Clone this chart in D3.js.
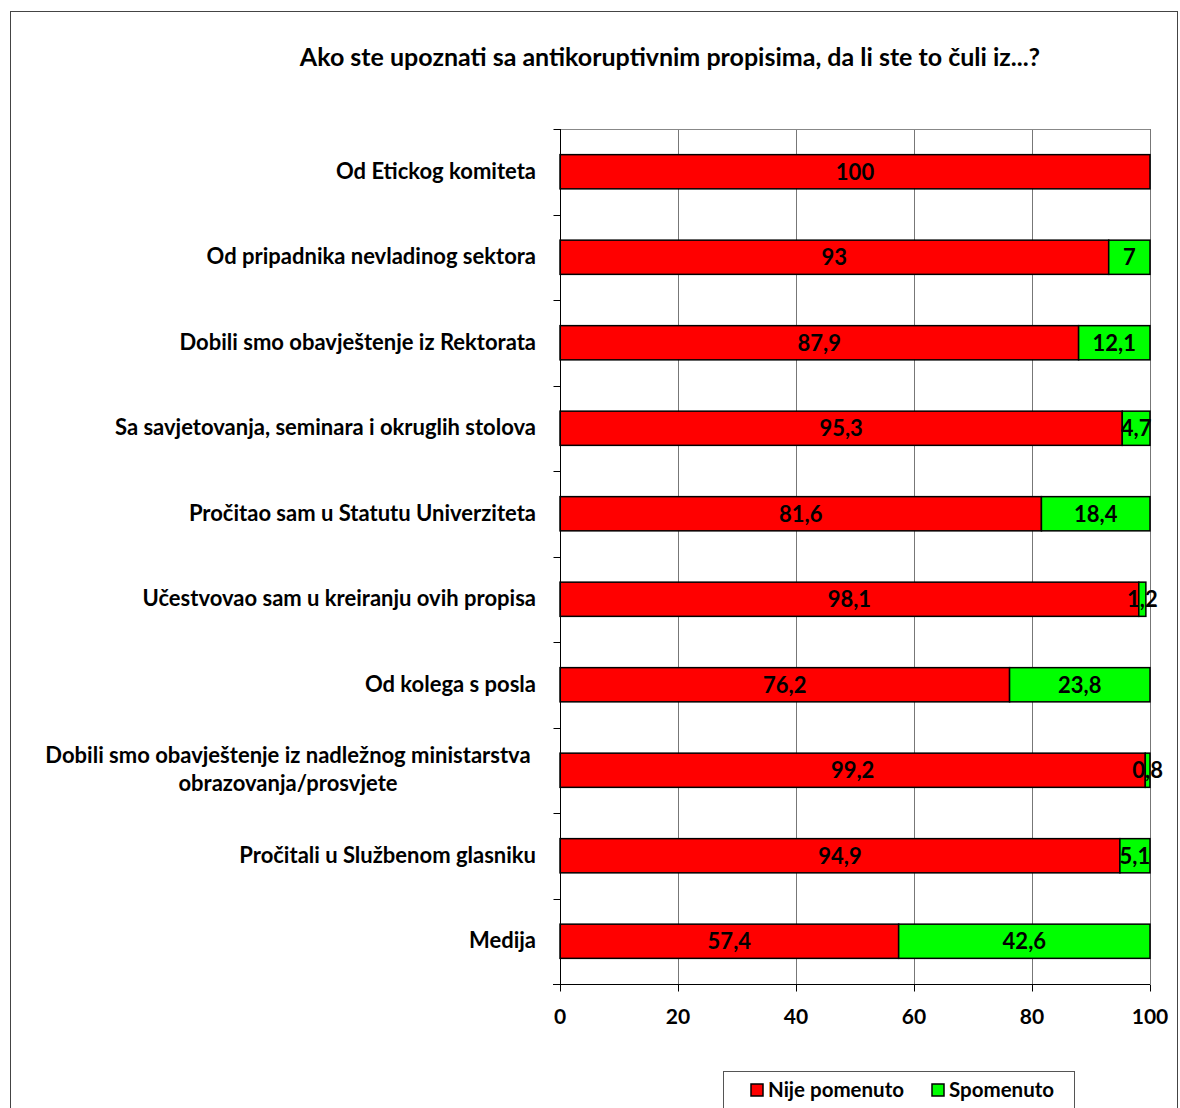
<!DOCTYPE html>
<html><head><meta charset="utf-8">
<script src="https://cdn.jsdelivr.net/npm/d3@7"></script>
<style>
body{margin:0;background:#fff;}
svg text{font-family:Lato,"Open Sans",sans-serif;font-weight:bold;fill:#000;}
</style></head>
<body><svg id="c" width="1180" height="1108"></svg>
<script>
const categories = [
  "Od Etickog komiteta",
  "Od pripadnika nevladinog sektora",
  "Dobili smo obavještenje iz Rektorata ",
  "Sa savjetovanja, seminara i okruglih stolova",
  "Pročitao sam u Statutu Univerziteta",
  "Učestvovao sam u kreiranju ovih propisa",
  "Od kolega s posla",
  "Dobili smo obavještenje iz nadležnog ministarstva|obrazovanja/prosvjete",
  "Pročitali u Službenom glasniku",
  "Medija"
];
const nijePomenuto = [100, 93, 87.9, 95.3, 81.6, 98.1, 76.2, 99.2, 94.9, 57.4];
const spomenuto   = [0, 7, 12.1, 4.7, 18.4, 1.2, 23.8, 0.8, 5.1, 42.6];
const seriesNames = ["Nije pomenuto", "Spomenuto"];
const seriesColors = ["#ff0000", "#00ff00"];
const xTicks = [0, 20, 40, 60, 80, 100];
const title = "Ako ste upoznati sa antikoruptivnim propisima, da li ste to čuli iz...?";

const svg = d3.select("#c");
svg.append("rect").attr("x",10.5).attr("y",11.5).attr("width",1167).attr("height",1120)
  .attr("fill","none").attr("stroke","#444").attr("stroke-width",1);

svg.append("text").attr("x",670).attr("y",66).attr("text-anchor","middle")
  .style("font-size","25px").text(title);

const L=560, R=1150, T=129, B=984;
const x = d3.scaleLinear().domain([0,100]).range([L,R]);
const y = d3.scaleBand().domain(categories).range([T,B]).paddingInner(0.6).paddingOuter(0.3);
const yb = d3.scaleBand().domain(categories).range([T,B]);

const g = svg.append("g");
g.selectAll("line.grid").data(xTicks.slice(1)).join("line")
  .attr("x1",d=>x(d)+0.5).attr("x2",d=>x(d)+0.5).attr("y1",T).attr("y2",B)
  .attr("stroke","#777").attr("stroke-width",1);
g.append("line").attr("x1",L).attr("x2",R).attr("y1",T+0.5).attr("y2",T+0.5).attr("stroke","#888");

const stackData = categories.map((c,i)=>({c, a:nijePomenuto[i], b:spomenuto[i]}));
const stacked = d3.stack().keys(["a","b"])(stackData);
const fmt = v => String(v).replace(".", ",");
stacked.forEach((s,si)=>{
  const key = si===0 ? "a" : "b";
  const vis = s.filter(d=>d.data[key]>0);
  const grp = svg.append("g");
  grp.selectAll("rect").data(vis).join("rect")
    .attr("x",d=>x(d[0])).attr("width",d=>x(d[1])-x(d[0]))
    .attr("y",d=>y(d.data.c)).attr("height",y.bandwidth())
    .attr("fill",seriesColors[si]).attr("stroke","#000").attr("stroke-width",1.5);
  grp.selectAll("text").data(vis).join("text")
    .attr("x",d=>(x(d[0])+x(d[1]))/2).attr("y",d=>y(d.data.c)+y.bandwidth()/2)
    .attr("dy","0.36em").attr("text-anchor","middle").style("font-size","22px")
    .text(d=>fmt(d.data[key]));
});

const ya = svg.append("g").attr("transform",`translate(${L+0.5},0)`);
ya.append("line").attr("y1",T).attr("y2",B).attr("stroke","#000");
const bounds = categories.map(c=>yb(c)).concat([B]);
ya.selectAll("line.t").data(bounds).join("line").attr("x1",-7).attr("x2",0)
  .attr("y1",d=>Math.round(d)+0.5).attr("y2",d=>Math.round(d)+0.5).attr("stroke","#000");

categories.forEach(c=>{
  const lines = c.split("|");
  const cy = y(c)+y.bandwidth()/2 - 1;
  if(lines.length===1){
    svg.append("text").attr("text-anchor","end").style("font-size","22px")
      .attr("x",536).attr("y",cy).attr("dy","0.36em").text(c);
  } else {
    lines.forEach((ln,k)=>{
      svg.append("text").attr("x",288).attr("y",cy-14+28*k).attr("dy","0.36em")
        .attr("text-anchor","middle").style("font-size","22px").text(ln);
    });
  }
});

const xa = svg.append("g").attr("transform",`translate(0,${B+0.5})`);
xa.append("line").attr("x1",L-7).attr("x2",R).attr("stroke","#000");
xa.selectAll("line.t").data(xTicks).join("line").attr("x1",d=>x(d)+0.5).attr("x2",d=>x(d)+0.5)
  .attr("y1",0).attr("y2",7).attr("stroke","#000");
xa.selectAll("text").data(xTicks).join("text").attr("x",d=>x(d)).attr("y",39)
  .attr("text-anchor","middle").style("font-size","21px").text(d=>d);

const lg = svg.append("g");
lg.append("rect").attr("x",723.5).attr("y",1071.5).attr("width",351).attr("height",60)
  .attr("fill","#fff").attr("stroke","#555");
const lx = [751, 932];
seriesNames.forEach((n,i)=>{
  lg.append("rect").attr("x",lx[i]).attr("y",1084).attr("width",12).attr("height",12)
    .attr("fill",seriesColors[i]).attr("stroke","#000").attr("stroke-width",1.5);
  lg.append("text").attr("x",lx[i]+17).attr("y",1090).attr("dy","0.36em").style("font-size","20.5px").text(n);
});
</script></body></html>
